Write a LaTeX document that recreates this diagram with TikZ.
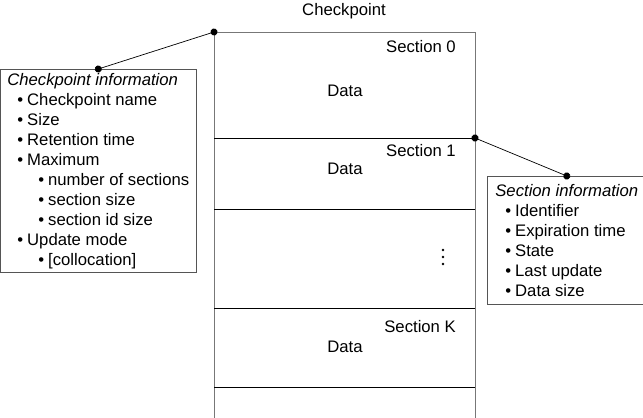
\documentclass[tikz,border=0pt]{standalone}
\usepackage{fontspec}
\setmainfont{Liberation Sans}
\usepackage{tikz}
\usetikzlibrary{arrows.meta, positioning}
\definecolor{linegray}{HTML}{777777}
\definecolor{boxgray}{HTML}{555555}
\newcommand{\itm}[1]{\hspace*{0.2cm}\textbullet\hspace{0.08cm}#1}
\newcommand{\subitm}[1]{\hspace*{0.62cm}\textbullet\hspace{0.08cm}#1}
\tikzset{
	infobox/.style={
			shape=rectangle,
			draw=boxgray,
			thin,
			fill=white,
			align=left,
			inner ysep=0pt,
			font=\fontsize{9.5}{11.4}\selectfont
		},
	celltext/.style={
			font=\fontsize{9.5}{11.4}\selectfont
		},
	outline/.style={
			draw=linegray,
			thin
		},
	divider/.style={
			draw=black,
			thin
		},
	conn/.style={
			draw=black,
			thin,
			{Circle[length=4pt]}-{Circle[length=4pt]},
			shorten <=-2pt,
			shorten >=-2pt
		}
}

\begin{document}
\begin{tikzpicture}[x=0.02cm, y=-0.02cm]

  \useasboundingbox (0,0) rectangle (643,418);

  % checkpoint column
  \coordinate (ctop) at (214,32);
  \coordinate (s1corner) at (475,138);
  \draw[outline] (214,418) -- (ctop) -- (475,32) -- (475,418);
  \draw[divider] (214,138) -- (s1corner);
  \draw[divider] (214,209) -- (475,209);
  \draw[divider] (214,308) -- (475,308);
  \draw[divider] (214,387) -- (475,387);

  \node[celltext] (title) at (344,11) {Checkpoint};

  \node[celltext, anchor=east] (sec0) at (462,47) {Section 0};
  \node[celltext] (data0) at (345,91) {Data};
  \node[celltext, anchor=east] (sec1) at (462,151) {Section 1};
  \node[celltext] (data1) at (345,169) {Data};
  \node[celltext, anchor=east] (seck) at (462,327) {Section K};
  \node[celltext] (datak) at (345,347) {Data};
  \foreach \y in {250,257,264}
    \fill (443,\y) circle (1.4);

  % information boxes
  \node[infobox, anchor=north west, inner xsep=0.14cm,
        minimum height=4.06cm] (cpinfo) at (0,69) {%
    \textit{Checkpoint information}\\
    \itm{Checkpoint name}\\
    \itm{Size}\\
    \itm{Retention time}\\
    \itm{Maximum}\\
    \subitm{number of sections}\\
    \subitm{section size}\\
    \subitm{section id size}\\
    \itm{Update mode}\\
    \subitm{[collocation]}};

  \node[infobox, anchor=north west, inner xsep=0.16cm,
        minimum height=2.56cm] (secinfo) at (487,176) {%
    \textit{Section information}\\
    \itm{Identifier}\\
    \itm{Expiration time}\\
    \itm{State}\\
    \itm{Last update}\\
    \itm{Data size}};

  \draw[conn] (cpinfo.north) -- (ctop);
  \draw[conn] (s1corner) -- (secinfo.north);

\end{tikzpicture}
\end{document}
